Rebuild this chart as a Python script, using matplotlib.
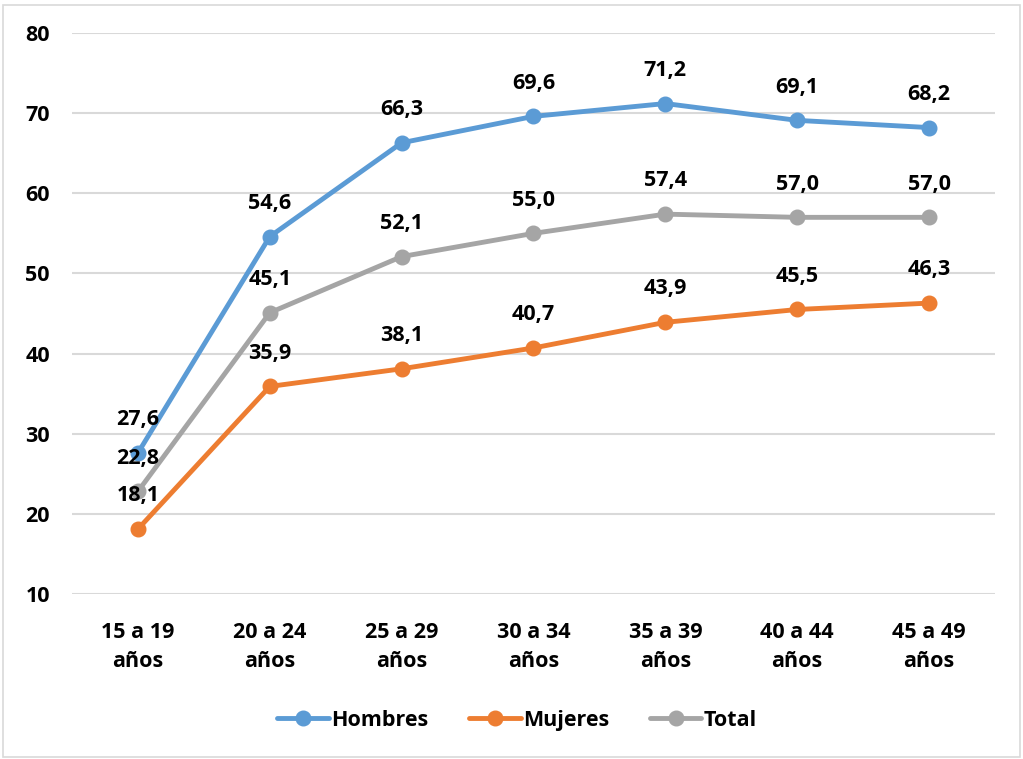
import matplotlib
matplotlib.use("Agg")
import matplotlib.pyplot as plt
from matplotlib.patches import Rectangle

plt.rcParams['font.family'] = ['Open Sans', 'DejaVu Sans']
plt.rcParams['font.weight'] = 'bold'

grupos = ['15 a 19\naños', '20 a 24\naños', '25 a 29\naños', '30 a 34\naños',
          '35 a 39\naños', '40 a 44\naños', '45 a 49\naños']
hombres = [27.6, 54.6, 66.3, 69.6, 71.2, 69.1, 68.2]
mujeres = [18.1, 35.9, 38.1, 40.7, 43.9, 45.5, 46.3]
total = [22.8, 45.1, 52.1, 55.0, 57.4, 57.0, 57.0]

series = [('Hombres', hombres, '#5B9BD5'),
          ('Mujeres', mujeres, '#ED7D31'),
          ('Total', total, '#A5A5A5')]

fig = plt.figure(figsize=(10.23, 7.59), dpi=100)
ax = fig.add_axes([0.0704, 0.2174, 0.9022, 0.7391])

x = list(range(len(grupos)))
for nombre, vals, color in series:
    ax.plot(x, vals, color=color, lw=3.5, marker='o', ms=10.5, label=nombre,
            solid_capstyle='round', zorder=3)
    for xi, v in zip(x, vals):
        ax.annotate(f'{v:.1f}'.replace('.', ','), (xi, v), xytext=(0, 24),
                    textcoords='offset points', ha='center', va='center',
                    fontsize=15.5, fontweight='bold', color='black', zorder=4)

ax.set_xlim(-0.5, len(grupos) - 0.5)
ax.set_ylim(10, 80)
ax.set_yticks(range(10, 81, 10))
ax.set_xticks(x)
ax.set_xticklabels(grupos, fontsize=15.5, fontweight='bold', linespacing=1.5)
ax.tick_params(axis='both', length=0, labelsize=15.5)
ax.tick_params(axis='y', pad=16)
ax.tick_params(axis='x', pad=20)
for lbl in ax.get_yticklabels():
    lbl.set_fontweight('bold')
ax.grid(axis='y', color='#D9D9D9', lw=1.5)
ax.set_axisbelow(True)
for s in ax.spines.values():
    s.set_visible(False)

ax.legend(loc='center', bbox_to_anchor=(0.482, -0.225), ncol=3, frameon=False,
          handlelength=2.4, columnspacing=1.9, handletextpad=0.1,
          prop={'weight': 'bold', 'size': 15.5})

# marco del gráfico
fig.patches.append(Rectangle((0.003, 0.003), 0.994, 0.99, transform=fig.transFigure,
                             fill=False, edgecolor='#D9D9D9', lw=1.2))

fig.savefig('out.png', dpi=100)
